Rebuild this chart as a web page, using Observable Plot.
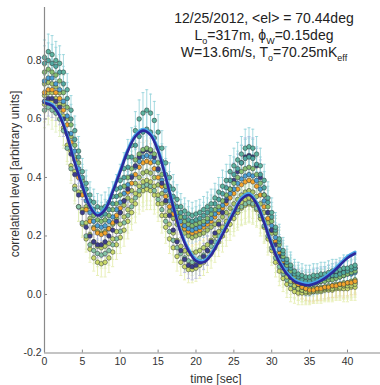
<!DOCTYPE html>
<html><head><meta charset="utf-8">
<script src="https://cdn.jsdelivr.net/npm/d3@7"></script>
<script src="https://cdn.jsdelivr.net/npm/@observablehq/plot@0.6"></script>
<style>html,body{margin:0;padding:0;background:#fff} svg{display:block}</style>
</head><body><div id="chart"></div>
<script>
// sampling times [sec]
const time = d3.range(0, 41.01, 0.5);
const fitTime = d3.range(0, 41.01, 1);

const seriesA = [0.81,0.83,0.82,0.80,0.79,0.76,0.70,0.63,0.56,0.49,
 0.42,0.38,0.34,0.315,0.30,0.295,0.30,0.315,0.335,0.36,
 0.39,0.43,0.47,0.51,0.56,0.60,0.62,0.63,0.62,0.595,
 0.555,0.50,0.45,0.40,0.36,0.325,0.30,0.285,0.275,0.27,
 0.275,0.28,0.29,0.30,0.31,0.33,0.35,0.37,0.39,0.42,
 0.44,0.46,0.48,0.50,0.505,0.50,0.48,0.44,0.39,0.33,
 0.28,0.23,0.19,0.15,0.12,0.10,0.08,0.07,0.065,0.06,
 0.06,0.065,0.065,0.07,0.07,0.075,0.08,0.08,0.085,0.09,
 0.09,0.095,0.10];
const seriesG = [0.79,0.80,0.79,0.78,0.76,0.72,0.67,0.60,0.53,0.47,
 0.40,0.36,0.32,0.29,0.275,0.27,0.275,0.29,0.31,0.335,
 0.365,0.40,0.435,0.47,0.51,0.54,0.555,0.565,0.555,0.535,
 0.50,0.455,0.41,0.37,0.335,0.30,0.28,0.265,0.255,0.25,
 0.255,0.26,0.27,0.28,0.29,0.31,0.325,0.345,0.365,0.39,
 0.41,0.43,0.45,0.465,0.47,0.465,0.445,0.41,0.365,0.315,
 0.265,0.22,0.18,0.14,0.11,0.09,0.07,0.06,0.05,0.045,
 0.045,0.05,0.05,0.055,0.055,0.06,0.065,0.065,0.07,0.075,
 0.08,0.085,0.09];
const seriesB = [0.76,0.77,0.76,0.75,0.73,0.69,0.64,0.58,0.51,0.45,
 0.39,0.34,0.30,0.27,0.255,0.25,0.255,0.27,0.29,0.31,
 0.34,0.37,0.40,0.43,0.46,0.48,0.495,0.50,0.495,0.48,
 0.45,0.41,0.37,0.34,0.31,0.28,0.265,0.25,0.24,0.235,
 0.24,0.245,0.25,0.26,0.275,0.29,0.30,0.32,0.34,0.36,
 0.38,0.40,0.42,0.43,0.435,0.43,0.41,0.38,0.34,0.30,
 0.25,0.21,0.17,0.13,0.10,0.08,0.06,0.05,0.04,0.035,
 0.035,0.035,0.04,0.045,0.045,0.05,0.05,0.055,0.06,0.065,
 0.07,0.075,0.08];
const seriesC = [0.69,0.70,0.70,0.69,0.67,0.63,0.58,0.52,0.46,0.40,
 0.34,0.29,0.25,0.225,0.21,0.205,0.21,0.225,0.245,0.27,
 0.295,0.32,0.35,0.38,0.41,0.435,0.45,0.455,0.45,0.43,
 0.40,0.37,0.335,0.30,0.275,0.255,0.24,0.225,0.215,0.21,
 0.215,0.22,0.23,0.24,0.25,0.265,0.28,0.295,0.31,0.33,
 0.345,0.36,0.375,0.385,0.39,0.385,0.37,0.34,0.30,0.26,
 0.22,0.18,0.14,0.11,0.08,0.06,0.045,0.035,0.025,0.02,
 0.015,0.015,0.02,0.02,0.025,0.025,0.03,0.03,0.035,0.035,
 0.04,0.04,0.045];
const seriesD = [0.66,0.67,0.67,0.66,0.64,0.60,0.55,0.48,0.41,0.34,
 0.28,0.23,0.20,0.18,0.17,0.17,0.18,0.20,0.22,0.25,
 0.28,0.32,0.36,0.40,0.44,0.47,0.49,0.495,0.49,0.47,
 0.43,0.38,0.32,0.27,0.22,0.18,0.15,0.12,0.10,0.095,
 0.10,0.11,0.13,0.15,0.18,0.21,0.24,0.28,0.32,0.36,
 0.39,0.42,0.45,0.47,0.475,0.47,0.44,0.40,0.34,0.28,
 0.22,0.17,0.13,0.10,0.075,0.06,0.05,0.045,0.04,0.04,
 0.04,0.045,0.05,0.05,0.055,0.06,0.065,0.07,0.075,0.08,
 0.085,0.09,0.09];
const seriesE = [0.65,0.66,0.66,0.64,0.62,0.57,0.51,0.44,0.37,0.30,
 0.24,0.19,0.155,0.125,0.11,0.105,0.11,0.125,0.145,0.17,
 0.195,0.22,0.25,0.28,0.31,0.34,0.355,0.36,0.355,0.34,
 0.31,0.27,0.23,0.19,0.16,0.13,0.11,0.095,0.085,0.085,
 0.09,0.10,0.11,0.125,0.14,0.16,0.18,0.20,0.22,0.24,
 0.26,0.28,0.295,0.305,0.31,0.305,0.29,0.26,0.23,0.19,
 0.15,0.11,0.08,0.055,0.035,0.02,0.01,0.005,0.005,0.005,
 0.005,0.01,0.01,0.01,0.015,0.015,0.015,0.02,0.02,0.02,
 0.02,0.025,0.025];
const seriesF = [0.73,0.74,0.74,0.72,0.70,0.66,0.61,0.55,0.49,0.43,
 0.37,0.32,0.28,0.25,0.235,0.23,0.235,0.25,0.265,0.29,
 0.315,0.345,0.375,0.405,0.435,0.455,0.47,0.475,0.47,0.455,
 0.425,0.39,0.355,0.32,0.29,0.27,0.25,0.235,0.225,0.22,
 0.225,0.23,0.24,0.25,0.26,0.275,0.29,0.305,0.325,0.345,
 0.36,0.38,0.395,0.405,0.41,0.405,0.39,0.36,0.32,0.28,
 0.235,0.195,0.155,0.12,0.09,0.07,0.055,0.045,0.04,0.035,
 0.035,0.04,0.04,0.045,0.05,0.05,0.055,0.06,0.06,0.065,
 0.07,0.07,0.075];
const seriesM = [0.72,0.725,0.72,0.71,0.69,0.65,0.60,0.54,0.47,0.41,
 0.35,0.30,0.26,0.23,0.215,0.21,0.215,0.225,0.24,0.26,
 0.28,0.305,0.33,0.355,0.38,0.40,0.415,0.42,0.415,0.40,
 0.375,0.345,0.315,0.285,0.26,0.24,0.225,0.21,0.20,0.195,
 0.20,0.205,0.21,0.22,0.23,0.24,0.25,0.265,0.28,0.295,
 0.31,0.325,0.34,0.35,0.355,0.35,0.335,0.31,0.28,0.245,
 0.21,0.175,0.14,0.11,0.085,0.065,0.045,0.035,0.025,0.02,
 0.02,0.02,0.02,0.025,0.025,0.03,0.03,0.035,0.035,0.04,
 0.04,0.045,0.05];
const seriesH = [0.68,0.69,0.69,0.67,0.65,0.61,0.55,0.49,0.42,0.35,
 0.29,0.245,0.205,0.18,0.165,0.16,0.165,0.175,0.19,0.215,
 0.24,0.265,0.29,0.32,0.345,0.37,0.385,0.39,0.385,0.37,
 0.34,0.31,0.27,0.24,0.21,0.185,0.165,0.15,0.14,0.14,
 0.145,0.15,0.16,0.17,0.185,0.20,0.215,0.23,0.25,0.27,
 0.285,0.30,0.315,0.325,0.33,0.325,0.31,0.285,0.255,0.215,
 0.18,0.14,0.11,0.08,0.06,0.045,0.03,0.02,0.015,0.01,
 0.01,0.01,0.015,0.015,0.02,0.02,0.02,0.025,0.025,0.03,
 0.03,0.03,0.035];
const seriesI = [0.63,0.64,0.63,0.62,0.60,0.56,0.50,0.43,0.36,0.30,
 0.245,0.20,0.17,0.15,0.14,0.135,0.14,0.15,0.17,0.19,
 0.215,0.245,0.27,0.30,0.33,0.355,0.37,0.375,0.37,0.355,
 0.325,0.29,0.25,0.215,0.185,0.16,0.14,0.125,0.115,0.11,
 0.115,0.125,0.135,0.15,0.165,0.18,0.20,0.22,0.24,0.26,
 0.275,0.29,0.30,0.31,0.315,0.31,0.295,0.27,0.235,0.20,
 0.16,0.125,0.095,0.07,0.05,0.035,0.025,0.02,0.015,0.015,
 0.015,0.015,0.02,0.02,0.02,0.025,0.025,0.03,0.03,0.03,
 0.035,0.035,0.04];
const errors = [0.06,0.06,0.065,0.065,0.06,0.06,0.055,0.05,0.05,0.05,
 0.045,0.045,0.045,0.045,0.045,0.045,0.05,0.05,0.05,0.05,
 0.055,0.055,0.06,0.06,0.065,0.065,0.07,0.07,0.065,0.065,
 0.06,0.06,0.055,0.05,0.05,0.05,0.045,0.045,0.045,0.045,
 0.045,0.045,0.045,0.05,0.05,0.05,0.05,0.055,0.055,0.055,
 0.06,0.06,0.06,0.065,0.065,0.065,0.06,0.06,0.055,0.055,
 0.05,0.05,0.05,0.045,0.045,0.045,0.04,0.04,0.04,0.04,
 0.04,0.04,0.04,0.04,0.04,0.04,0.04,0.04,0.04,0.045,
 0.045,0.045,0.045];
const fitValues = [0.655,0.645,0.61,0.54,0.45,0.37,0.30,0.27,0.29,0.35,
 0.42,0.49,0.54,0.56,0.545,0.49,0.40,0.30,0.21,0.15,
 0.115,0.11,0.135,0.18,0.23,0.28,0.325,0.34,0.31,0.245,
 0.17,0.11,0.07,0.045,0.035,0.032,0.04,0.055,0.075,0.10,
 0.125,0.14];
const xTicks = [0,5,10,15,20,25,30,35,40];
const yTicks = [-0.2,0,0.2,0.4,0.6,0.8];

const series = [
  {values: seriesE, fill: "#cbd96a", bar: "#e2eba6"},
  {values: seriesI, fill: "#86c4a6", bar: "#dcecb8"},
  {values: seriesH, fill: "#bcd26a", bar: "#e6eeb4"},
  {values: seriesM, fill: "#a9c56a", bar: "#d3e4ae"},
  {values: seriesC, fill: "#f2a42c", bar: "#f1dba6"},
  {values: seriesF, fill: "#4c9ed4", bar: "#a9d1ec"},
  {values: seriesD, fill: "#3d3d8e", bar: "#aeb0e0"},
  {values: seriesB, fill: "#86bf72", bar: "#bcdcc4"},
  {values: seriesG, fill: "#4fa7a0", bar: "#a0d6dc"},
  {values: seriesA, fill: "#5db3a0", bar: "#92d2da"}
];
const rowsOf = s => s.values.map((v, i) => ({t: time[i], v, e: errors[i]}));
const fitRows = fitValues.map((v, i) => ({t: fitTime[i], v}));

const marks = [];
for (const s of series) {
  const r = rowsOf(s);
  const o = {stroke: s.bar, strokeWidth: 0.9, strokeOpacity: 0.9};
  marks.push(Plot.ruleX(r, {x: "t", y1: d => d.v - d.e, y2: d => d.v + d.e, ...o}));
  marks.push(Plot.link(r, {x1: d => d.t - 0.2, x2: d => d.t + 0.2, y1: d => d.v + d.e, y2: d => d.v + d.e, ...o}));
  marks.push(Plot.link(r, {x1: d => d.t - 0.2, x2: d => d.t + 0.2, y1: d => d.v - d.e, y2: d => d.v - d.e, ...o}));
}
for (const s of series) {
  marks.push(Plot.dot(rowsOf(s), {x: "t", y: "v", r: 2.3, fill: s.fill, stroke: "#2a3535", strokeWidth: 0.5}));
}
marks.push(Plot.line(fitRows, {x: "t", y: "v", curve: "catmull-rom", stroke: "#4aa8e8", strokeWidth: 3, dy: -1.5}));
marks.push(Plot.line(fitRows, {x: "t", y: "v", curve: "catmull-rom", stroke: "#2b2a9e", strokeWidth: 2.6}));
// axes
marks.push(Plot.ruleX([0], {stroke: "#8a8a8a", strokeWidth: 1.2}));
marks.push(Plot.ruleY([-0.2], {stroke: "#8a8a8a", strokeWidth: 1.2}));
marks.push(Plot.ruleX(xTicks.slice(1), {x: d => d, y1: -0.2, y2: -0.19, stroke: "#8a8a8a"}));
marks.push(Plot.ruleY(yTicks.slice(1), {y: d => d, x1: 0, x2: 0.4, stroke: "#8a8a8a"}));
marks.push(Plot.axisX({ticks: xTicks, tickSize: 0, tickPadding: 5, fontSize: 10.5, fill: "#333", label: null, tickFormat: d => String(d)}));
marks.push(Plot.axisY({ticks: yTicks, tickSize: 0, tickPadding: 3, fontSize: 10.5, fill: "#333", label: null, tickFormat: d => d.toFixed(1)}));

const chart = Plot.plot({
  width: 380, height: 385,
  marginLeft: 44, marginRight: 0, marginTop: 7, marginBottom: 32.5,
  style: {fontFamily: "'Liberation Sans', Arial, sans-serif", background: "#fff"},
  x: {domain: [0, 44.36], axis: null},
  y: {domain: [-0.2, 0.981], axis: null},
  marks
});
document.getElementById("chart").appendChild(chart);

const svg = d3.select(chart);
const g = svg.append("g").attr("font-family", "'Liberation Sans', Arial, sans-serif").attr("fill", "#222");
function line(y, parts) {
  const t = g.append("text").attr("x", 264).attr("y", y).attr("text-anchor", "middle").attr("font-size", 14);
  let lowered = false;
  for (const [txt, sub] of parts) {
    const sp = t.append("tspan").text(txt);
    if (sub) { sp.attr("font-size", 9).attr("dy", lowered ? 0 : 3.5); lowered = true; }
    else { sp.attr("dy", lowered ? -3.5 : 0); lowered = false; }
  }
}
line(23, [["12/25/2012, <el> = 70.44deg", false]]);
line(40, [["L", false], ["o", true], ["=317m, ϕ", false], ["W", true], ["=0.15deg", false]]);
line(57, [["W=13.6m/s, T", false], ["o", true], ["=70.25mK", false], ["eff", true]]);
g.append("text").attr("x", 216).attr("y", 383).attr("text-anchor", "middle").attr("font-size", 12).attr("fill", "#333").text("time [sec]");
g.append("text").attr("transform", "translate(18.5,174) rotate(-90)").attr("text-anchor", "middle").attr("font-size", 12).attr("fill", "#333").text("correlation level [arbitrary units]");
</script>
</body></html>
